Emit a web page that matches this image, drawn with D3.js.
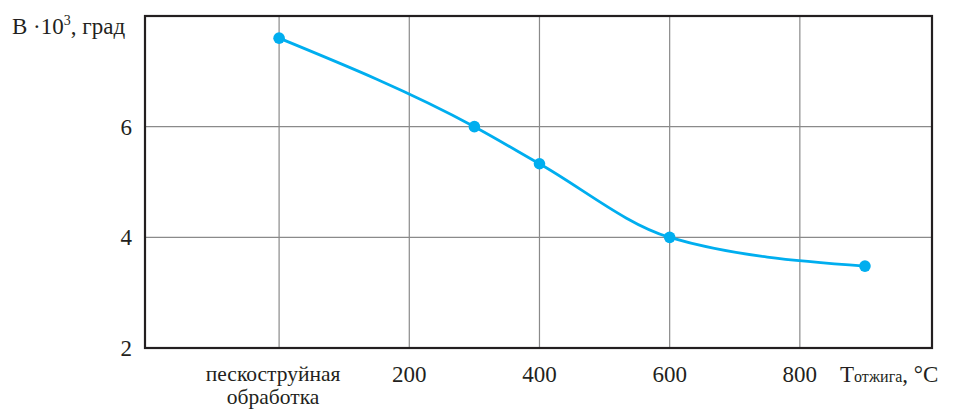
<!DOCTYPE html>
<html>
<head>
<meta charset="utf-8">
<script src="https://cdn.jsdelivr.net/npm/d3@7"></script>
<style>
	body { margin: 0; background: #fff; }
	text { font-family: "Liberation Serif", "DejaVu Serif", serif; fill: #231f20; }
</style>
</head>
<body>
<svg id="chart" width="954" height="415"></svg>
<script>
// annealing temperature (0 = sandblasted, no annealing), B * 10^3, grad
const temps = [0, 300, 400, 600, 900];
const bValues = [7.6, 6.0, 5.33, 4.0, 3.48];
const xTicks = [200, 400, 600, 800];
const yTicks = [2, 4, 6];

const svg = d3.select('#chart');
const plotLeft = 145, plotRight = 932, plotTop = 16, plotBottom = 348;

const x = d3.scaleLinear().domain([-206, 1003]).range([plotLeft, plotRight]);
const y = d3.scaleLinear().domain([2, 8]).range([plotBottom, plotTop]);

const grid = svg.append('g');
// vertical grid incl. the sandblast position
[0, ...xTicks].forEach(v => {
	grid.append('line')
		.attr('x1', x(v)).attr('x2', x(v))
		.attr('y1', plotTop).attr('y2', plotBottom)
		.attr('stroke', '#8a8a8a').attr('stroke-width', 1.2);
});
yTicks.filter(v => v > 2).forEach(v => {
	grid.append('line')
		.attr('x1', plotLeft).attr('x2', plotRight)
		.attr('y1', y(v)).attr('y2', y(v))
		.attr('stroke', '#8a8a8a').attr('stroke-width', 1.2);
});

svg.append('rect')
	.attr('x', plotLeft).attr('y', plotTop)
	.attr('width', plotRight - plotLeft).attr('height', plotBottom - plotTop)
	.attr('fill', 'none').attr('stroke', '#231f20').attr('stroke-width', 2.2);

// y tick labels
svg.append('g').selectAll('text').data(yTicks).join('text')
	.attr('x', 132).attr('y', d => y(d) + 8)
	.attr('text-anchor', 'end')
	.attr('font-size', 23)
	.text(d => d);

svg.append('text')
	.attr('x', 12).attr('y', 34)
	.attr('font-size', 23)
	.html('B ·10<tspan dy="-9" font-size="14">3</tspan><tspan dy="9">, град</tspan>');

// x tick labels
svg.append('g').selectAll('text').data(xTicks).join('text')
	.attr('x', d => x(d)).attr('y', 382)
	.attr('text-anchor', 'middle')
	.attr('font-size', 23)
	.text(d => d);

const sbLines = ['пескоструйная', 'обработка'];
svg.append('g').selectAll('text').data(sbLines).join('text')
	.attr('x', x(0) - 6)
	.attr('y', (d, i) => 381 + i * 23)
	.attr('text-anchor', 'middle')
	.attr('font-size', 21.5)
	.text(d => d);

svg.append('text')
	.attr('x', 840).attr('y', 382)
	.attr('font-size', 23)
	.html('T<tspan font-size="16">отжига</tspan>, °C');

// curve
const pts = temps.map((t, i) => [t, bValues[i]]);
const line = d3.line()
	.x(d => x(d[0]))
	.y(d => y(d[1]))
	.curve(d3.curveMonotoneX);

svg.append('path')
	.datum(pts)
	.attr('d', line)
	.attr('fill', 'none')
	.attr('stroke', '#00aeef')
	.attr('stroke-width', 2.8);

svg.append('g').selectAll('circle').data(pts).join('circle')
	.attr('cx', d => x(d[0]))
	.attr('cy', d => y(d[1]))
	.attr('r', 5.8)
	.attr('fill', '#00aeef');
</script>
</body>
</html>
